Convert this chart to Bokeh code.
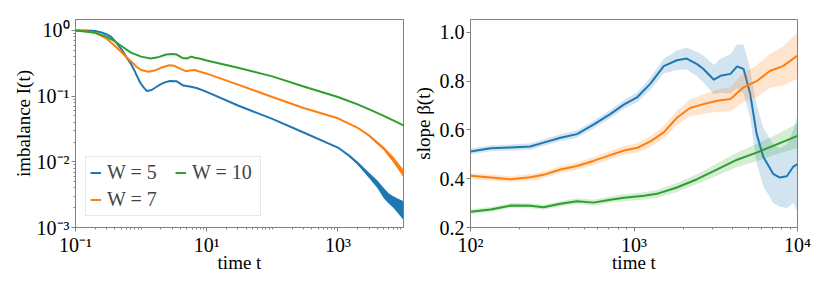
from bokeh.plotting import figure
from bokeh.layouts import row
from bokeh.models import (Legend, LegendItem, FixedTicker, CustomJSTickFormatter,
                          Range1d, ColumnDataSource, NumeralTickFormatter)
from bokeh.embed import file_html
from bokeh.resources import INLINE

BLUE, ORANGE, GREEN = "#1f77b4", "#ff7f0e", "#2ca02c"
FONT = "Liberation Serif"

# ---------------- left panel: imbalance I(t) ----------------
t_w5 = [0.1, 0.15, 0.2, 0.25, 0.3, 0.35, 0.43, 0.5, 0.6, 0.7, 0.77, 0.87, 0.97, 1.1, 1.22, 1.45,
        1.7, 1.94, 2.3, 2.75, 3.5, 4.4, 5.5, 7.0, 10, 30, 100, 300, 1000, 1500, 2000, 3000,
        4000, 5000, 7000, 10000]
I_w5 = [1.0, 1.0, 0.98, 0.93, 0.87, 0.8, 0.63, 0.52, 0.39, 0.31, 0.26, 0.2, 0.16, 0.135, 0.12,
        0.124, 0.138, 0.15, 0.162, 0.17, 0.168, 0.145, 0.14, 0.133, 0.116, 0.072, 0.045,
        0.028, 0.0165, 0.0123, 0.0095, 0.0062, 0.0045, 0.0033, 0.0024, 0.0018]
t_w5_noise = [1500, 2000, 3000, 4000, 5000, 6000, 7000, 8000, 10000]
lo_w5_noise = [0.0118, 0.0090, 0.0056, 0.0040, 0.0028, 0.0023, 0.0020, 0.0017, 0.0013]
hi_w5_noise = [0.0128, 0.0100, 0.0068, 0.0052, 0.0040, 0.0033, 0.0030, 0.0028, 0.0025]

t_w7 = [0.1, 0.15, 0.2, 0.3, 0.4, 0.5, 0.6, 0.7, 0.85, 1.0, 1.3, 1.6, 2.0, 2.7, 3.2, 4.0, 4.8,
        5.5, 6.5, 7.5, 10, 30, 100, 300, 1000, 2000, 3000, 5000, 7000, 10000]
I_w7 = [1.0, 0.97, 0.92, 0.75, 0.58, 0.47, 0.39, 0.34, 0.28, 0.25, 0.235, 0.245, 0.27, 0.295,
        0.29, 0.26, 0.24, 0.245, 0.25, 0.24, 0.22, 0.15, 0.097, 0.066, 0.046, 0.033, 0.025,
        0.016, 0.011, 0.0067]
t_w7_noise = [3000, 5000, 7000, 10000]
lo_w7_noise = [0.024, 0.015, 0.0098, 0.0058]
hi_w7_noise = [0.026, 0.017, 0.012, 0.0076]

t_w10 = [0.1, 0.15, 0.2, 0.3, 0.4, 0.5, 0.7, 1.0, 1.4, 1.8, 2.4, 3.0, 3.5, 4.3, 5.0, 5.8, 6.6,
         8, 10, 30, 100, 300, 1000, 2000, 3000, 5000, 10000]
I_w10 = [1.0, 0.96, 0.92, 0.8, 0.68, 0.58, 0.46, 0.4, 0.375, 0.39, 0.43, 0.44, 0.43, 0.38,
         0.375, 0.4, 0.385, 0.37, 0.35, 0.27, 0.2, 0.14, 0.097, 0.075, 0.063, 0.05, 0.036]

# ---------------- right panel: slope beta(t) ----------------
t_b5 = [100, 133, 176, 232, 280, 355, 448, 565, 716, 870, 1050, 1260, 1520, 1830, 2100, 2430,
        2660, 3080, 3380, 3890, 4270, 4680, 5130, 5620, 6170, 7100, 7800, 8600, 9440, 10000]
b_w5 = [0.512, 0.525, 0.528, 0.532, 0.548, 0.568, 0.583, 0.622, 0.665, 0.705, 0.735, 0.79,
        0.862, 0.886, 0.893, 0.87, 0.85, 0.806, 0.822, 0.83, 0.861, 0.85, 0.75, 0.585, 0.49,
        0.42, 0.405, 0.41, 0.45, 0.46]
e_w5 = [0.012, 0.012, 0.012, 0.013, 0.013, 0.014, 0.015, 0.016, 0.017, 0.018, 0.02, 0.025,
        0.03, 0.04, 0.045, 0.05, 0.055, 0.06, 0.07, 0.08, 0.09, 0.1, 0.1, 0.12, 0.12, 0.12,
        0.12, 0.13, 0.15, 0.2]

t_b7 = [100, 133, 176, 232, 280, 355, 448, 565, 716, 870, 1050, 1260, 1520, 1830, 2200, 2660,
        3230, 3890, 4680, 5620, 6780, 8150, 10000]
b_w7 = [0.412, 0.405, 0.398, 0.406, 0.416, 0.438, 0.452, 0.473, 0.497, 0.516, 0.527, 0.553,
        0.59, 0.65, 0.69, 0.706, 0.72, 0.727, 0.775, 0.8, 0.842, 0.862, 0.905]
e_w7 = [0.012, 0.012, 0.012, 0.013, 0.013, 0.014, 0.015, 0.016, 0.017, 0.018, 0.02, 0.022,
        0.025, 0.03, 0.035, 0.04, 0.045, 0.05, 0.06, 0.065, 0.07, 0.08, 0.095]

t_b10 = [100, 133, 176, 232, 280, 355, 448, 565, 716, 870, 1150, 1380, 1830, 2430, 3230, 4270,
         5620, 7400, 10000]
b_w10 = [0.265, 0.274, 0.29, 0.289, 0.283, 0.297, 0.308, 0.302, 0.314, 0.322, 0.33, 0.338,
         0.364, 0.398, 0.438, 0.478, 0.507, 0.54, 0.576]
e_w10 = [0.01, 0.01, 0.01, 0.01, 0.01, 0.011, 0.012, 0.012, 0.013, 0.014, 0.015, 0.016, 0.018,
         0.02, 0.025, 0.03, 0.035, 0.04, 0.05]

legend_labels = ["W = 5", "W = 7", "W = 10"]
left_xticks = [0.1, 10, 1000]
left_yticks = [0.001, 0.01, 0.1, 1]
right_xticks = [100, 1000, 10000]
right_yticks = [0.2, 0.4, 0.6, 0.8, 1.0]

sup_js = """
const e = Math.round(Math.log10(tick));
const m = {'-':'\u207b','0':'\u2070','1':'\u00b9','2':'\u00b2','3':'\u00b3','4':'\u2074',
           '5':'\u2075','6':'\u2076','7':'\u2077','8':'\u2078','9':'\u2079'};
return '10' + String(e).split('').map(c => m[c]).join('');
"""


def minor_log(lo_exp, hi_exp):
    out = []
    for k in range(lo_exp, hi_exp + 1):
        for m in range(1, 10):
            out.append(m * 10.0 ** k)
    return out


def style(p):
    p.outline_line_color = "#808080"
    p.outline_line_alpha = 1.0
    p.outline_line_width = 1
    p.xgrid.visible = False
    p.ygrid.visible = False
    for ax in p.xaxis + p.yaxis:
        ax.axis_line_color = "#808080"
        ax.major_tick_line_color = "#808080"
        ax.minor_tick_line_color = "#808080"
        ax.major_tick_out = 4
        ax.major_tick_in = 0
        ax.minor_tick_out = 2
        ax.minor_tick_in = 0
        ax.major_label_text_font = FONT
        ax.major_label_text_font_size = "20px"
        ax.major_label_text_color = "black"
        ax.major_label_standoff = 2
        ax.axis_label_text_font = FONT
        ax.axis_label_text_font_size = "19px"
        ax.axis_label_text_font_style = "normal"
        ax.axis_label_text_color = "black"
    p.background_fill_color = "white"
    p.border_fill_color = "white"


p1 = figure(frame_width=328, frame_height=208, x_axis_type="log", y_axis_type="log",
            x_range=Range1d(0.1, 10000), y_range=Range1d(0.001, 1.47),
            output_backend="svg", toolbar_location=None,
            min_border_left=75, min_border_right=6, min_border_top=19, min_border_bottom=44)
style(p1)
p1.xaxis.ticker = FixedTicker(ticks=left_xticks, minor_ticks=minor_log(-1, 3))
p1.yaxis.ticker = FixedTicker(ticks=left_yticks, minor_ticks=minor_log(-3, 0))
p1.xaxis.formatter = CustomJSTickFormatter(code=sup_js)
p1.yaxis.formatter = CustomJSTickFormatter(code=sup_js)
p1.xaxis.axis_label = "time t"
p1.yaxis.axis_label = "imbalance I(t)"
p1.xaxis.axis_label_standoff = -7
p1.yaxis.axis_label_standoff = 0

p1.varea(x=t_w5_noise, y1=lo_w5_noise, y2=hi_w5_noise, fill_color=BLUE, fill_alpha=1.0)
p1.varea(x=t_w7_noise, y1=lo_w7_noise, y2=hi_w7_noise, fill_color=ORANGE, fill_alpha=1.0)
r5 = p1.line(t_w5, I_w5, line_color=BLUE, line_width=2)
r7 = p1.line(t_w7, I_w7, line_color=ORANGE, line_width=2)
r10 = p1.line(t_w10, I_w10, line_color=GREEN, line_width=2)

legend = Legend(items=[LegendItem(label=legend_labels[0], renderers=[r5]),
                       LegendItem(label=legend_labels[1], renderers=[r7]),
                       LegendItem(label=legend_labels[2], renderers=[r10])],
                location=(10, 11), ncols=2,
                label_text_font=FONT, label_text_font_size="20px",
                glyph_width=11, glyph_height=17, label_standoff=6, spacing=4,
                label_width=64, label_height=17,
                padding=4, margin=0, border_line_color="#d0d0d0", border_line_width=1,
                background_fill_alpha=0.8)
p1.add_layout(legend)

p2 = figure(frame_width=327, frame_height=208, x_axis_type="log",
            x_range=Range1d(100, 10000), y_range=Range1d(0.2, 1.053),
            output_backend="svg", toolbar_location=None,
            min_border_left=52, min_border_right=25, min_border_top=19, min_border_bottom=44)
style(p2)
p2.xaxis.ticker = FixedTicker(ticks=right_xticks, minor_ticks=minor_log(2, 3))
p2.xaxis.formatter = CustomJSTickFormatter(code=sup_js)
p2.yaxis.ticker = FixedTicker(ticks=right_yticks)
p2.yaxis.formatter = NumeralTickFormatter(format="0.0")
p2.yaxis.minor_tick_line_color = None
p2.xaxis.axis_label = "time t"
p2.yaxis.axis_label = "slope \u03b2(t)"
p2.xaxis.axis_label_standoff = -7
p2.yaxis.axis_label_standoff = 3

for t, b, e, c in [(t_b5, b_w5, e_w5, BLUE), (t_b7, b_w7, e_w7, ORANGE), (t_b10, b_w10, e_w10, GREEN)]:
    src = ColumnDataSource(dict(t=t, b=b, lo=[bi - ei for bi, ei in zip(b, e)],
                                hi=[bi + ei for bi, ei in zip(b, e)]))
    p2.varea(x="t", y1="lo", y2="hi", source=src, fill_color=c, fill_alpha=0.2)
    p2.line(x="t", y="b", source=src, line_color=c, line_width=2)

layout = row(p1, p2)
open("out.html", "w").write(file_html(layout, INLINE))
